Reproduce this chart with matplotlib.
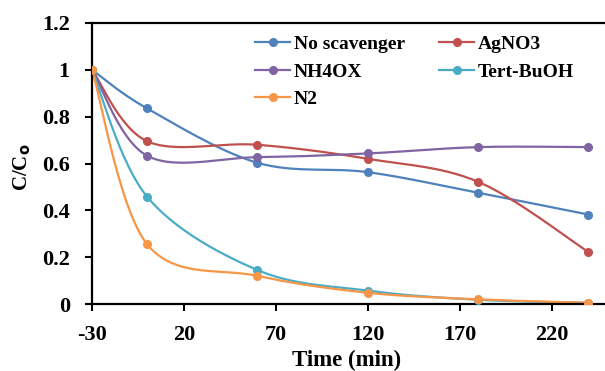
import numpy as np
import matplotlib.pyplot as plt

time = [-30, 0, 60, 120, 180, 240]
no_scavenger = [1.0, 0.835, 0.603, 0.563, 0.475, 0.382]
agno3 = [1.0, 0.695, 0.68, 0.62, 0.522, 0.222]
nh4ox = [1.0, 0.633, 0.627, 0.643, 0.67, 0.67]
tert_buoh = [1.0, 0.458, 0.145, 0.057, 0.018, 0.005]
n2 = [1.0, 0.255, 0.12, 0.048, 0.02, 0.005]

series = [
    ("No scavenger", no_scavenger, "#4F81BD"),
    ("AgNO3", agno3, "#C0504D"),
    ("NH4OX", nh4ox, "#8064A2"),
    ("Tert-BuOH", tert_buoh, "#4BACC6"),
    ("N2", n2, "#F79646"),
]

plt.rcParams['font.family'] = ['Liberation Serif', 'DejaVu Serif']
plt.rcParams['font.weight'] = 'bold'
plt.rcParams['axes.unicode_minus'] = False

sx, sy = 1.839, 233.0  # px per unit, so smoothing works in screen space


def smooth(x, y, n=30):
    # Excel-style smoothed line: cubic bezier with catmull-rom control points
    p = np.column_stack([np.array(x) * sx, np.array(y) * sy])
    out = []
    for i in range(len(p) - 1):
        p0 = p[i - 1] if i > 0 else p[i]
        p1, p2 = p[i], p[i + 1]
        p3 = p[i + 2] if i + 2 < len(p) else p[i + 1]
        c1 = p1 + (p2 - p0) / 6
        c2 = p2 - (p3 - p1) / 6
        t = np.linspace(0, 1, n)[:, None]
        seg = ((1 - t) ** 3 * p1 + 3 * (1 - t) ** 2 * t * c1
               + 3 * (1 - t) * t ** 2 * c2 + t ** 3 * p2)
        out.append(seg)
    out = np.vstack(out)
    return out[:, 0] / sx, out[:, 1] / sy


fig = plt.figure(figsize=(6.05, 3.71), dpi=100)
ax = fig.add_axes([92 / 605, 67 / 371, 513 / 605, 281 / 371])

handles = {}
for name, vals, col in series:
    xs, ys = smooth(time, vals)
    ax.plot(xs, ys, color=col, lw=1.6, zorder=2)
    ax.plot(time, vals, 'o', color=col, ms=5.5, zorder=3)
    handles[name] = ax.plot([], [], '-o', color=col, lw=1.6, ms=5.5)[0]

order = ["No scavenger", "NH4OX", "N2", "AgNO3", "Tert-BuOH"]
ax.legend([handles[k] for k in order], order, ncol=2, loc='upper left',
          bbox_to_anchor=(0.318, 0.955), frameon=False, fontsize=14,
          handlelength=1.8, handletextpad=0.2, columnspacing=1.75,
          labelspacing=0.5, borderaxespad=0, borderpad=0)

ax.set_xlim(-30, 249)
ax.set_ylim(0, 1.2)
ax.set_xticks([-30, 20, 70, 120, 170, 220])
ax.set_yticks([0, 0.2, 0.4, 0.6, 0.8, 1.0, 1.2])
ax.set_yticklabels(['0', '0.2', '0.4', '0.6', '0.8', '1', '1.2'])
ax.tick_params(labelsize=16, width=1.5, length=5, direction='out')
ax.tick_params(axis='x', pad=10)
ax.tick_params(axis='y', pad=11)
ax.spines['right'].set_visible(False)
for s in ['left', 'bottom', 'top']:
    ax.spines[s].set_linewidth(1.6)

ax.set_xlabel('Time (min)', fontsize=16.5, fontweight='bold')
ax.xaxis.set_label_coords(0.497, -0.163)
ax.set_ylabel('C/C$_\\mathbf{o}$', fontsize=15, fontweight='bold')
ax.yaxis.set_label_coords(-0.115, 0.486)

fig.savefig('out.png', dpi=100)
